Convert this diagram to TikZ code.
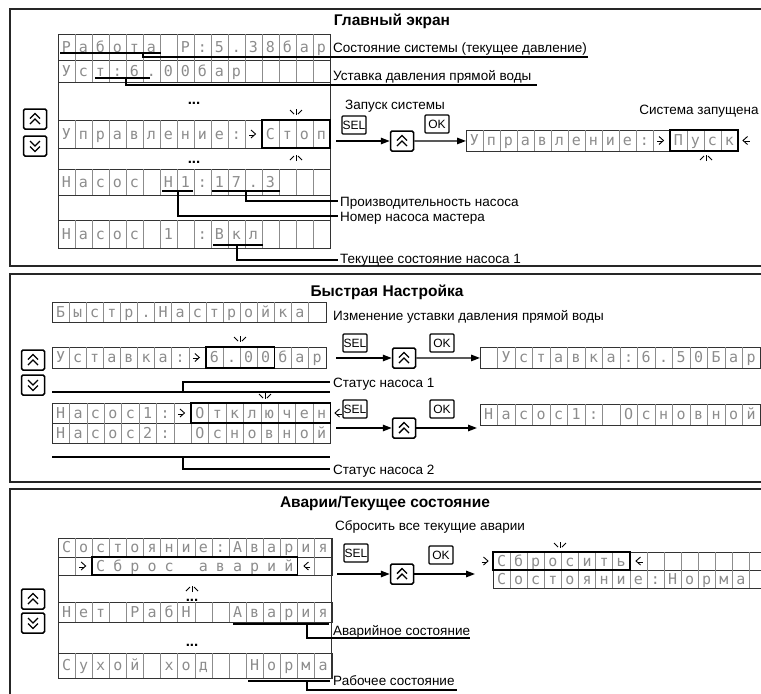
\documentclass[tikz,border=0pt]{standalone}
\usepackage{fontspec}
\setmainfont{Liberation Sans}
\newfontfamily\lcdfont{DejaVu Sans Mono}
\usetikzlibrary{arrows.meta}
\tikzset{
 secframe/.style={draw=black!85, line width=2.2pt},
 ttl/.style={font=\fontsize{15.5}{18}\selectfont\bfseries, anchor=base, inner sep=0pt},
 lbl/.style={font=\fontsize{13.5}{16}\selectfont, anchor=base west, inner sep=0pt},
 lbc/.style={font=\fontsize{13.5}{16}\selectfont, anchor=base, inner sep=0pt},
 lcdline/.style={draw=black!80, line width=0.9pt},
 lcdgrid/.style={draw=black!45, line width=0.6pt},
 lcdchar/.style={font=\lcdfont\fontsize{15}{15}\selectfont, text=black!45, anchor=base, inner sep=0pt},
 selbox/.style={draw, line width=1.3pt, rounded corners=1pt, minimum width=24pt, minimum height=18pt, inner sep=0pt, font=\fontsize{12}{12}\selectfont},
 keybox/.style={draw, line width=1.5pt, rounded corners=1.5pt, minimum width=23pt, minimum height=20pt, inner sep=0pt},
 sbox/.style={draw=black, line width=1.6pt, inner sep=0pt},
 chev/.style={line width=1.4pt},
 curs/.style={line width=0.9pt},
 lead/.style={line width=1.3pt},
 uline/.style={line width=1.5pt},
 flow/.style={line width=1.4pt, -{Triangle[length=9pt,width=6.5pt]}},
 dots/.style={font=\fontsize{15}{15}\selectfont\bfseries, anchor=base, inner sep=0pt},
}
% LCD row: #1 name, #2 x0, #3 ytop, #4 cell width, #5 height, #6 chars
\newcommand\lcdchars[6]{%
  \foreach \lch [count=\lidx] in {#6}{%
    \node[lcdchar] (#1c\lidx) at ({#2+(\lidx-0.5)*#4},{#3+#5/2+5.4}) {\lch};}}
\newcommand\lcdbox[5]{%
  \pgfmathsetmacro\lcdW{16*#4}%
  \node[lcdline, anchor=north west, minimum width=\lcdW pt, minimum height=#5pt, inner sep=0pt] (#1) at (#2,#3) {};}
\newcommand\lcdrow[6]{%
  \lcdbox{#1}{#2}{#3}{#4}{#5}%
  \foreach \lidx in {2,...,16}{\draw[lcdgrid] ({#2+(\lidx-1)*#4},{#3}) -- ({#2+(\lidx-1)*#4},{#3+#5});}%
  \lcdchars{#1}{#2}{#3}{#4}{#5}{#6}}
\newcommand\upkey[3]{%
  \node[keybox] (#1) at (#2,#3) {};
  \draw[chev] ([shift={(-5,-0.5)}]#1.center) -- ([shift={(0,-5.5)}]#1.center) -- ([shift={(5,-0.5)}]#1.center);
  \draw[chev] ([shift={(-5,5)}]#1.center) -- ([shift={(0,0)}]#1.center) -- ([shift={(5,5)}]#1.center);}
\newcommand\downkey[3]{%
  \node[keybox] (#1) at (#2,#3) {};
  \draw[chev] ([shift={(-5,0.5)}]#1.center) -- ([shift={(0,5.5)}]#1.center) -- ([shift={(5,0.5)}]#1.center);
  \draw[chev] ([shift={(-5,-5)}]#1.center) -- ([shift={(0,0)}]#1.center) -- ([shift={(5,-5)}]#1.center);}
\newcommand\curR[2]{%
  \draw[curs] ({#1-2.5},{#2-4}) -- ({#1+2},{#2}) -- ({#1-2.5},{#2+4});
  \draw[curs] ({#1-4.5},{#2+1}) -- ({#1+0.5},{#2+1});}
\newcommand\curL[2]{%
  \draw[curs] ({#1+2.5},{#2-4}) -- ({#1-2},{#2}) -- ({#1+2.5},{#2+4});
  \draw[curs] ({#1+4.5},{#2+1}) -- ({#1-0.5},{#2+1});}
\newcommand\blinkD[2]{%
  \draw[curs] ({#1},{#2-4}) -- ({#1},{#2+2});
  \draw[curs] ({#1-6},{#2-3}) -- ({#1-2},{#2+1});
  \draw[curs] ({#1+6},{#2-3}) -- ({#1+2},{#2+1});}
\newcommand\blinkU[2]{%
  \draw[curs] ({#1},{#2+4}) -- ({#1},{#2-2});
  \draw[curs] ({#1-6},{#2+3}) -- ({#1-2},{#2-1});
  \draw[curs] ({#1+6},{#2+3}) -- ({#1+2},{#2-1});}
\begin{document}
\begin{tikzpicture}[x=1pt,y=-1pt]
\useasboundingbox (0,0) rectangle (761,694);
% frames
\draw[secframe] (10,9) rectangle (775,266);
\draw[secframe] (10,274) rectangle (775,482);
\draw[secframe] (775,489) -- (10,489) -- (10,705);
% titles
\node[ttl] (t1) at (392,25) {Главный экран};
\node[ttl] (t2) at (387,296) {Быстрая Настройка};
\node[ttl] (t3) at (385,507) {Аварии/Текущее состояние};

%%%%% Section 1
\draw[lcdline] (58,34) -- (58,248);
\draw[lcdline] (330,34) -- (330,248);
\lcdrow{ra}{58}{34}{17}{26}{Р,а,б,о,т,а,{},Р,:,5,.,3,8,б,а,р}
\lcdrow{rb}{58}{60}{17}{22}{У,с,т,:,6,.,0,0,б,а,р,{},{},{},{},{}}
\lcdrow{rc}{58}{120}{17}{28}{У,п,р,а,в,л,е,н,и,е,:,{},С,т,о,п}
\lcdrow{rd}{58}{169}{17}{26}{Н,а,с,о,с,{},Н,1,:,1,7,.,3,{},{},{}}
\lcdrow{re}{58}{220}{17}{28}{Н,а,с,о,с,{},1,{},:,В,к,л,{},{},{},{}}
\node[dots] (e1) at (194,104) {...};
\node[dots] (e2) at (194,163) {...};
\node[sbox, minimum width=68pt, minimum height=28pt] (stop) at (296,134) {};
\curR{253.5}{134}
\blinkD{296}{113}
\blinkU{296}{157}
% leaders
\coordinate (u1a) at (60,53); \coordinate (u1b) at (161,53);
\draw[uline] (u1a) -- (u1b);
\coordinate (l1s) at (143,53); \coordinate (l1e) at (588,57);
\draw[lead] (l1s) |- (l1e);
\node[lbl] (L1) at (333,52) {Состояние системы (текущее давление)};
\coordinate (u2a) at (95,78); \coordinate (u2b) at (150,78);
\draw[uline] (u2a) -- (u2b);
\coordinate (l2s) at (126,78); \coordinate (l2e) at (537,85);
\draw[lead] (l2s) |- (l2e);
\node[lbl] (L2) at (333,80) {Уставка давления прямой воды};
\coordinate (u3a) at (162,191); \coordinate (u3b) at (193,191);
\draw[uline] (u3a) -- (u3b);
\coordinate (u4a) at (212,191); \coordinate (u4b) at (280,191);
\draw[uline] (u4a) -- (u4b);
\coordinate (l3s) at (246,191); \coordinate (l3e) at (338,201);
\draw[lead] (l3s) |- (l3e);
\node[lbl] (L3) at (340,206) {Производительность насоса};
\coordinate (l4s) at (178,191); \coordinate (l4e) at (338,216);
\draw[lead] (l4s) |- (l4e);
\node[lbl] (L4) at (340,221) {Номер насоса мастера};
\coordinate (u5a) at (213,245); \coordinate (u5b) at (263,245);
\draw[uline] (u5a) -- (u5b);
\coordinate (l5s) at (237,245); \coordinate (l5e) at (338,260);
\draw[lead] (l5s) |- (l5e);
\node[lbl] (L5) at (340,263) {Текущее состояние насоса 1};
% keys
\upkey{k1u}{35}{119}
\downkey{k1d}{35}{146}
% flow
\node[lbc] (Lz) at (395,109) {Запуск системы};
\node[selbox] (sel1) at (354,125) {SEL};
\coordinate (f1s) at (336,141);
\upkey{k1}{402}{141}
\node[selbox] (ok1) at (437,124) {OK};
\lcdrow{rr}{466}{130}{17}{21}{У,п,р,а,в,л,е,н,и,е,:,{},П,у,с,к}
\node[sbox, minimum width=68pt, minimum height=21pt] (pusk) at (704,140.5) {};
\curR{661.5}{140.5}
\curL{745}{140.5}
\blinkU{706}{157}
\node[lbc] (Ls) at (699,114) {Система запущена};
\draw[flow] (f1s) -- (k1.west);
\draw[flow] (k1.east) -- (rr.west);

%%%%% Section 2
\lcdrow{qa}{52}{302}{17.1}{20}{Б,ы,с,т,р,.,Н,а,с,т,р,о,й,к,а,{}}
\lcdrow{qb}{52}{347}{17.1}{21}{У,с,т,а,в,к,а,:,{},6,.,0,0,б,а,р}
\node[sbox, minimum width=68.4pt, minimum height=21pt] (b600) at (240.1,357.5) {};
\curR{197.35}{357.5}
\blinkD{240}{340}
\lcdrow{qc}{52}{403}{17.4}{20}{Н,а,с,о,с,1,:,{},О,т,к,л,ю,ч,е,н}
\lcdrow{qd}{52}{423}{17.4}{20}{Н,а,с,о,с,2,:,{},О,с,н,о,в,н,о,й}
\node[sbox, minimum width=139.2pt, minimum height=20pt] (otkl) at (260.8,413) {};
\curR{182.5}{413}
\curL{337}{413}
\blinkD{265}{397}
\coordinate (b1a) at (52,392); \coordinate (b1b) at (330,392);
\draw[uline] (b1a) -- (b1b);
\coordinate (l6s) at (183,392); \coordinate (l6e) at (330,382);
\draw[lead] (l6s) |- (l6e);
\node[lbl] (L6) at (333,387) {Статус насоса 1};
\coordinate (b2a) at (52,457); \coordinate (b2b) at (330,457);
\draw[uline] (b2a) -- (b2b);
\coordinate (l7s) at (183,457); \coordinate (l7e) at (330,469);
\draw[lead] (l7s) |- (l7e);
\node[lbl] (L7) at (333,474) {Статус насоса 2};
\upkey{k2u}{33}{360}
\downkey{k2d}{33}{385}
\node[lbl] (L8) at (333,320) {Изменение уставки давления прямой воды};
\node[selbox] (sel2) at (355,343) {SEL};
\coordinate (f2s) at (336,358);
\upkey{k2}{404}{358}
\node[selbox] (ok2) at (442,343) {OK};
\lcdrow{qv}{480}{347}{17.5}{21}{{},У,с,т,а,в,к,а,:,6,.,5,0,Б,а,р}
\draw[flow] (f2s) -- (k2.west);
\draw[flow] (k2.east) -- (qv.west);
\node[selbox] (sel3) at (355,409) {SEL};
\coordinate (f3s) at (336,428);
\upkey{k3}{404}{428}
\node[selbox] (ok3) at (442,409) {OK};
\lcdrow{qw}{480}{404}{17.5}{21}{Н,а,с,о,с,1,:,{},О,с,н,о,в,н,о,й}
\coordinate (f3e) at (477,428);
\draw[flow] (f3s) -- (k3.west);
\draw[flow] (k3.east) -- (f3e);

%%%%% Section 3
\node[lbl] (L9) at (335,530) {Сбросить все текущие аварии};
\draw[lcdline] (58,538) -- (58,678);
\draw[lcdline] (331.6,538) -- (331.6,678);
\lcdrow{sa}{58}{538}{17.1}{19}{С,о,с,т,о,я,н,и,е,:,А,в,а,р,и,я}
\lcdbox{sb}{58}{557}{17.1}{18}
\foreach \lidx in {2,3,15,16}{\draw[lcdgrid] ({58+(\lidx-1)*17.1},557) -- ({58+(\lidx-1)*17.1},575);}
\lcdchars{sb}{58}{557}{17.1}{18}{{},{},С,б,р,о,с,{},а,в,а,р,и,й,{},{}}
\node[sbox, minimum width=205.2pt, minimum height=18pt] (sbros) at (194.8,566) {};
\curR{83.65}{566}
\curL{305.95}{566}
\blinkU{192}{588}
\node[dots] (e3) at (192,601) {...};
\lcdrow{sc}{58}{602}{17.1}{20}{Н,е,т,{},Р,а,б,Н,{},{},А,в,а,р,и,я}
\node[dots] (e4) at (192,646) {...};
\lcdrow{sd}{58}{653}{17.1}{25}{С,у,х,о,й,{},х,о,д,{},{},Н,о,р,м,а}
\coordinate (u6a) at (233,624); \coordinate (u6b) at (329,624);
\draw[uline] (u6a) -- (u6b);
\coordinate (l8s) at (307,624); \coordinate (l8e) at (470,638);
\draw[lead] (l8s) |- (l8e);
\node[lbl] (L10) at (333,635) {Аварийное состояние};
\coordinate (u7a) at (248,681); \coordinate (u7b) at (330,681);
\draw[uline] (u7a) -- (u7b);
\coordinate (l9s) at (307,681); \coordinate (l9e) at (457,690);
\draw[lead] (l9s) |- (l9e);
\node[lbl] (L11) at (333,685) {Рабочее состояние};
\upkey{k4u}{33}{599}
\downkey{k4d}{33}{623}
\node[selbox] (sel4) at (356,553) {SEL};
\coordinate (f4s) at (337,574);
\upkey{k4}{402}{574}
\node[selbox] (ok4) at (441,555) {OK};
\lcdrow{ta}{493}{552}{17.1}{18}{С,б,р,о,с,и,т,ь,{},{},{},{},{},{},{},{}}
\lcdrow{tb}{493}{570}{17.1}{18}{С,о,с,т,о,я,н,и,е,:,Н,о,р,м,а,{}}
\node[sbox, minimum width=136.8pt, minimum height=18pt] (sbr2) at (561.4,561) {};
\curR{486}{561}
\curL{638}{561}
\blinkD{560}{546}
\coordinate (f4e) at (475,574);
\draw[flow] (f4s) -- (k4.west);
\draw[flow] (k4.east) -- (f4e);
\end{tikzpicture}
\end{document}
